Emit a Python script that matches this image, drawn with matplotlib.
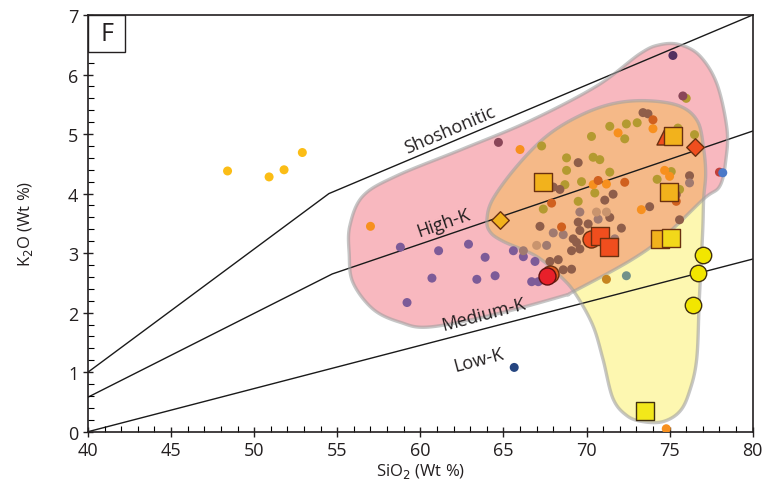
import numpy as np
import matplotlib
matplotlib.use('Agg')
import matplotlib.pyplot as plt
from matplotlib.patches import Polygon, Rectangle
from matplotlib.ticker import MultipleLocator

plt.rcParams['font.family'] = ['Open Sans', 'DejaVu Sans']

# ---- field boundaries (SiO2, K2O) ----
sho_x = [40, 54.5, 80]
sho_y = [1.0, 4.0, 7.0]
hik_x = [40, 54.7, 80]
hik_y = [0.58, 2.65, 5.05]
mdk_x = [40, 80]
mdk_y = [0.0, 2.9]

# ---- shaded fields (outline nodes) ----
pink_x = [68.58, 69.18, 72.61, 74.72, 77.05, 78.03, 78.39, 78.45, 77.85, 76.83, 75.62, 74.42,
          73.22, 70.63, 66.59, 62.56, 58.59, 56.55, 55.76, 55.72, 55.94, 57.15, 58.77, 60.58, 64.61]
pink_y = [2.28, 2.35, 2.87, 3.29, 3.91, 4.13, 4.58, 5.09, 5.84, 6.31, 6.50, 6.50,
          6.35, 5.81, 5.22, 4.75, 4.30, 3.96, 3.46, 2.99, 2.51, 2.06, 1.84, 1.76, 1.98]
yel_x = [64.01, 64.37, 65.81, 67.62, 69.60, 71.59, 73.63, 75.61, 76.69, 77.05, 77.17, 77.05,
         76.99, 76.79, 76.63, 76.19, 75.61, 74.60, 73.39, 72.43, 71.59, 70.99, 70.39, 69.42,
         68.58, 67.02, 64.97, 64.19]
yel_y = [3.57, 3.91, 4.46, 4.97, 5.31, 5.51, 5.56, 5.47, 5.21, 4.75, 4.33, 3.91,
         3.36, 2.23, 1.22, 0.67, 0.34, 0.17, 0.17, 0.27, 0.56, 1.22, 1.78, 2.28,
         2.57, 2.94, 3.20, 3.36]

# ---- small symbols ----
purple = [(58.8, 3.10), (61.1, 3.04), (62.9, 3.15), (63.9, 2.93), (60.7, 2.58), (63.4, 2.56),
          (64.5, 2.62), (59.2, 2.17), (65.6, 3.04), (66.2, 2.94), (66.9, 2.86), (66.7, 2.52),
          (67.1, 2.52)]
gold = [(48.4, 4.38), (50.9, 4.28), (51.8, 4.40), (52.9, 4.69)]
orange = [(57.0, 3.45), (66.0, 4.74), (71.9, 5.02), (74.0, 5.09), (74.7, 4.39), (75.0, 4.29),
          (70.4, 4.15), (71.2, 4.16), (73.3, 3.73), (74.8, 0.05)]
dkorange = [(74.0, 5.24), (70.7, 4.22), (72.3, 4.19), (67.9, 3.84), (75.4, 3.87), (68.5, 3.44)]
olive = [(67.3, 4.80), (76.0, 5.60), (73.05, 5.19), (72.4, 5.17), (71.4, 5.13), (72.3, 4.92),
         (70.3, 4.96), (75.5, 5.10), (76.5, 4.99), (68.8, 4.60), (70.4, 4.61), (70.8, 4.57),
         (68.8, 4.39), (71.4, 4.36), (75.1, 4.37), (68.7, 4.15), (69.7, 4.20), (70.5, 4.01),
         (69.5, 3.87), (67.4, 3.74), (74.25, 4.24), (75.6, 4.07)]
brown = [(73.4, 5.36), (73.7, 5.34), (69.5, 4.52), (76.2, 4.30), (68.4, 4.07), (68.0, 4.11),
         (71.1, 3.89), (71.6, 3.99), (73.8, 3.78), (75.6, 3.56), (69.6, 3.38), (69.5, 3.52),
         (70.1, 3.49), (71.4, 3.60), (72.1, 3.42), (67.2, 3.45), (69.2, 3.24), (69.1, 3.04),
         (69.6, 3.07), (69.4, 3.18), (67.8, 2.86), (68.3, 2.89), (68.6, 2.72), (69.1, 2.73),
         (75.4, 3.98)]
greybrown = [(76.2, 4.18), (70.7, 3.57), (69.6, 3.69), (68.0, 3.34), (68.6, 3.31), (67.6, 3.13),
             (71.7, 3.24), (66.2, 3.04)]
tan = [(70.6, 3.69), (71.2, 3.69), (67.0, 3.13)]
maroon = [(75.8, 5.64), (64.7, 4.86)]
dkpurple = [(75.2, 6.32)]
redbrown = [(78.0, 4.36)]
blue = [(78.2, 4.35)]
dkblue = [(65.65, 1.08)]
greygreen = [(72.4, 2.62)]
ochre = [(71.2, 2.56)]

# ---- large symbols ----
gold_sq = [(67.4, 4.19), (74.95, 4.03), (74.4, 3.24), (75.2, 4.97)]
ylgold_sq = [(75.1, 3.26)]
yel_sq = [(73.55, 0.35)]
red_sq = [(70.8, 3.28), (71.35, 3.10)]
red_ci = [(70.3, 3.24)]
red_tri = [(74.7, 4.96)]
red_dia = [(76.5, 4.78)]
gold_dia = [(64.8, 3.56)]
yel_ci = [(77.0, 2.97), (76.7, 2.66), (76.4, 2.13)]
crim_ci = [(67.6, 2.62)]
crim_back = [(67.8, 2.65)]


def smooth_closed(xs, ys, n=24):
    P = np.column_stack([xs, ys])
    N = len(P)
    t = np.linspace(0, 1, n, endpoint=False)[:, None]
    out = []
    for i in range(N):
        p0, p1, p2, p3 = P[i - 1], P[i], P[(i + 1) % N], P[(i + 2) % N]
        out.append(0.5 * (2 * p1 + (-p0 + p2) * t + (2 * p0 - 5 * p1 + 4 * p2 - p3) * t ** 2
                          + (-p0 + 3 * p1 - 3 * p2 + p3) * t ** 3))
    return np.vstack(out)


fig = plt.figure(figsize=(7.75, 4.89), dpi=100)
ax = fig.add_axes([0.1135, 0.1151, 0.8577, 0.8522])

pink_pts = smooth_closed(pink_x, pink_y)
yel_pts = smooth_closed(yel_x, yel_y)

pink_patch = Polygon(pink_pts, closed=True, facecolor='#f8b8bf', edgecolor='none', zorder=1)
ax.add_patch(pink_patch)
ax.add_patch(Polygon(yel_pts, closed=True, facecolor='#fdf7b0', edgecolor='none', zorder=1))
ov = Polygon(yel_pts, closed=True, facecolor='#f5b988', edgecolor='none', zorder=1.1)
ax.add_patch(ov)
ov.set_clip_path(pink_patch)

# boundary lines
ax.plot(sho_x, sho_y, color='#1a1a1a', lw=1.0, zorder=1.5)
ax.plot(hik_x, hik_y, color='#1a1a1a', lw=1.0, zorder=1.5)
ax.plot(mdk_x, mdk_y, color='#1a1a1a', lw=1.0, zorder=1.5)

# outlines
ax.add_patch(Polygon(pink_pts, closed=True, facecolor='none', edgecolor='#a0a0a0',
                     lw=2.4, alpha=0.6, zorder=2))
ax.add_patch(Polygon(yel_pts, closed=True, facecolor='none', edgecolor='#a0a0a0',
                     lw=2.4, alpha=0.6, zorder=2))


def dots(pts, color, s=42, z=4):
    a = np.array(pts)
    ax.scatter(a[:, 0], a[:, 1], s=s, color=color, edgecolors='none', zorder=z)


dots(purple, '#7d5b98')
dots(gold, '#fbbd16')
dots(olive, '#b39a30')
dots(brown, '#8f5e4a')
dots(greybrown, '#a07a70')
dots(tan, '#c9946e')
dots(orange, '#f7901e')
dots(dkorange, '#d0601e')
dots(maroon, '#8a4658')
dots(dkpurple, '#523060')
dots(redbrown, '#c0403a')
dots(blue, '#4a78c8')
dots(dkblue, '#254580')
dots(greygreen, '#72918a')
dots(ochre, '#c68420')


def big(pts, marker, face, s, edge='#6a3010', z=6):
    a = np.array(pts)
    ax.scatter(a[:, 0], a[:, 1], s=s, marker=marker, facecolors=face, edgecolors=edge,
               linewidths=1.0, zorder=z)


big(crim_back, 'o', '#e05a20', 150, z=5)
big(crim_ci, 'o', '#e8202a', 150, edge='#601010')
big(red_ci, 'o', '#f04e1e', 150)
big(red_tri, '^', '#f04e1e', 150)
big(gold_sq, 's', '#f2b21c', 150)
big(ylgold_sq, 's', '#f2d81a', 150)
big(yel_sq, 's', '#f2e81a', 150, edge='#403010')
big(red_sq, 's', '#f04e1e', 150)
big(red_dia, 'D', '#f04e1e', 80)
big(gold_dia, 'D', '#f2b21c', 80)
big(yel_ci, 'o', '#f2e600', 140, edge='#403010')

# field names
tkw = dict(fontsize=13, color='#231f20', ha='center', va='center', zorder=7)
ax.text(61.8, 5.08, 'Shoshonitic', rotation=23, **tkw)
ax.text(61.4, 3.52, 'High-K', rotation=19, **tkw)
ax.text(63.8, 1.98, 'Medium-K', rotation=15, **tkw)
ax.text(63.5, 1.22, 'Low-K', rotation=15, **tkw)

# panel tag
ax.add_patch(Rectangle((0, 0.912), 0.056, 0.088, transform=ax.transAxes, facecolor='white',
                       edgecolor='#231f20', lw=1.0, zorder=8))
ax.text(0.028, 0.955, 'F', transform=ax.transAxes, fontsize=18, ha='center', va='center',
        color='#231f20', zorder=9)

ax.set_xlim(40, 80)
ax.set_ylim(0, 7)
ax.xaxis.set_major_locator(MultipleLocator(5))
ax.xaxis.set_minor_locator(MultipleLocator(1))
ax.yaxis.set_major_locator(MultipleLocator(1))
ax.yaxis.set_minor_locator(MultipleLocator(0.2))
ax.tick_params(which='major', direction='inout', length=7, width=1.0, labelsize=13,
               colors='#231f20', top=False, right=False)
ax.tick_params(which='minor', direction='in', length=4, width=0.8, top=False, right=False)
for sp in ax.spines.values():
    sp.set_linewidth(1.2)
    sp.set_color('#231f20')

ax.set_xlabel('SiO$_2$ (Wt %)', fontsize=12, color='#231f20', labelpad=1)
ax.set_ylabel('K$_2$O (Wt %)', fontsize=12, color='#231f20', labelpad=24)

fig.savefig('out.png', dpi=100)
